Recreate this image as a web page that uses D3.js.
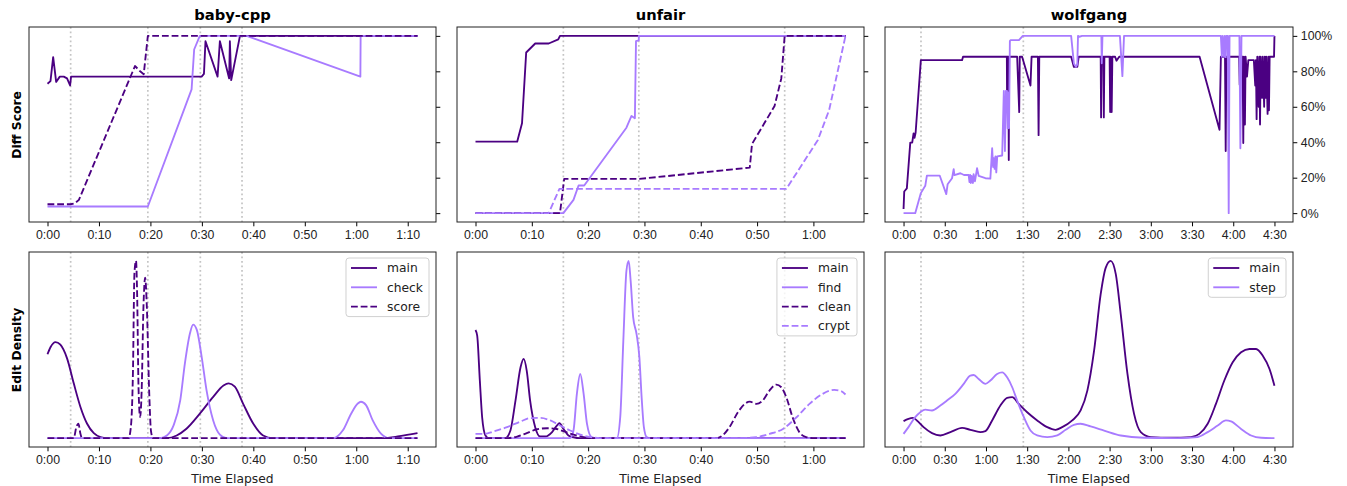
<!DOCTYPE html>
<html>
<head>
<meta charset="utf-8">
<script src="https://cdn.jsdelivr.net/npm/d3@7"></script>
<style>
  body { margin: 0; background: #fff; }
  svg { font-family: "DejaVu Sans", sans-serif; }
</style>
</head>
<body>
<div id="chart"></div>
<script>
// colours used by the notebook
var dark = "#4b0082";
var light = "#a87bff";

// ---- baby-cpp ---- [minutes, value]
var babyMarks = [4.5, 19.5, 29.7, 37.8];
var babyMainDiff = [[0,73],[0.58,74.5],[1.1,88],[1.68,74],[2.39,77],[3.16,77],[3.8,76],[4.39,72],[4.58,77],[29.95,77],[30.4,78.5],[30.7,97],[33.05,77],[33.5,97],[35.3,76],[35.44,97],[35.7,75],[37.4,100],[71.9,100]];
var babyCheckDiff = [[0,3.75],[19.5,3.75],[28.0,69.8],[28.5,92.3],[29.6,100],[38.7,100],[60.8,77],[60.85,100],[71.9,100]];
var babyScoreDiff = [[0,5],[4.5,5],[5.3,5.5],[6.1,7.5],[17.0,83],[18.0,80],[18.7,78.4],[19.5,100],[71.9,100]];
var babyMainDens = [[0,0.473],[0.58,0.513],[1.55,0.542],[2.5,0.527],[3.8,0.45],[5.1,0.309],[6.4,0.176],[7.7,0.081],[9.0,0.028],[10.3,0.006],[11.6,0],[23.2,0],[25.1,0.015],[27.0,0.053],[29.6,0.138],[32.2,0.233],[34.2,0.297],[35.2,0.309],[36.4,0.29],[38.0,0.195],[40.0,0.081],[41.9,0.015],[43.8,0],[65.1,0],[68.4,0.011],[71.9,0.028]];
var babyCheckDens = [[0,0],[21.9,0],[23.2,0.015],[24.5,0.072],[25.8,0.214],[26.7,0.422],[27.7,0.593],[28.3,0.64],[29.0,0.612],[29.95,0.46],[30.9,0.271],[32.2,0.1],[33.5,0.02],[34.8,0],[55.5,0],[57.4,0.044],[59.0,0.138],[60.3,0.195],[60.9,0.205],[61.9,0.186],[63.2,0.1],[64.8,0.025],[66.4,0],[71.9,0]];
var babyScoreDens = [[0,0],[5.1,0],[5.6,0.0625],[6.0,0.081],[6.4,0.025],[6.7,0],[15.75,0],[16.2,0.062],[16.6,0.366],[16.9,0.934],[17.2,1.0],[17.4,0.84],[17.7,0.271],[18.0,0.119],[18.3,0.271],[18.65,0.744],[18.98,0.905],[19.3,0.744],[19.75,0.271],[20.1,0.043],[20.5,0],[71.9,0]];

// ---- unfair ----
var unfairMarks = [15.6, 29.0, 54.9];
var unfairMainDiff = [[0,40.3],[7.4,40.3],[8.26,50.7],[9.0,90.6],[10.6,95.7],[13.0,95.7],[14.7,98],[15.0,100],[65.7,100]];
var unfairFindDiff = [[0,0],[15.6,0],[17.4,7.5],[18.3,15.6],[19.3,15.6],[26.8,48.2],[27.7,54.8],[28.3,53.5],[28.5,97],[29.0,97.5],[29.0,100],[65.7,100]];
var unfairCleanDiff = [[0,0],[15.0,0],[15.75,19.3],[29.1,19.3],[48.7,25.7],[49.1,39],[53.1,60.4],[54.3,76],[54.9,100],[65.7,100]];
var unfairCryptDiff = [[0,0],[13.0,0],[14.9,13.7],[55.2,13.7],[60.8,41.3],[62.8,58.2],[65.7,100]];
var unfairMainDens = [[0,0.61],[0.3,0.578],[0.77,0.325],[1.18,0.118],[1.77,0.015],[2.36,0],[5.3,0],[6.2,0.043],[7.1,0.212],[8.0,0.4],[8.55,0.447],[9.1,0.38],[9.7,0.212],[10.6,0.062],[11.5,0.009],[12.4,0.009],[13.6,0.034],[14.45,0.071],[14.9,0.084],[15.6,0.053],[16.5,0.015],[17.4,0.005],[18.6,0],[65.7,0]];
var unfairFindDens = [[0,0],[16.8,0],[17.4,0.043],[18.0,0.25],[18.6,0.362],[19.2,0.25],[19.8,0.08],[20.6,0.006],[21.5,0],[25.1,0],[25.7,0.118],[26.25,0.55],[26.8,0.944],[27.2,1.0],[27.55,0.887],[28.0,0.681],[28.6,0.587],[29.1,0.456],[29.5,0.23],[29.9,0.062],[30.4,0.006],[31.0,0],[65.7,0]];
var unfairCleanDens = [[0,0],[5.6,0],[7.4,0.009],[9.1,0.028],[10.9,0.05],[12.7,0.056],[14.2,0.053],[15.6,0.039],[17.4,0.02],[19.2,0.006],[20.9,0],[42.8,0],[44.0,0.019],[45.1,0.062],[46.6,0.146],[47.8,0.193],[48.7,0.206],[49.9,0.193],[51.0,0.212],[52.2,0.268],[53.4,0.302],[54.3,0.287],[55.2,0.23],[56.3,0.118],[57.5,0.034],[58.7,0.006],[59.9,0],[65.7,0]];
var unfairCryptDens = [[0,0.024],[1.5,0.024],[3.2,0.0375],[5.6,0.062],[8.0,0.094],[9.7,0.113],[11.5,0.114],[13.3,0.1],[15.0,0.071],[16.8,0.043],[18.6,0.02],[20.4,0.006],[22.1,0],[46.9,0],[49.9,0.006],[52.2,0.024],[54.6,0.052],[57.0,0.118],[59.3,0.193],[61.65,0.25],[63.7,0.272],[64.9,0.265],[65.7,0.246]];

// ---- wolfgang ----
var wolfMarks = [12.7, 87.2];
var wolfMainDiff = [[0,2.3],[0.5,12.2],[2.4,14],[4.9,39.8],[6.3,39.8],[7.3,45],[8.0,42.5],[8.8,45.5],[12.6,86.3],[42.6,86.3],[43.3,88.2],[75.2,88.2],[75.4,57],[75.6,88.2],[76.3,88.2],[76.6,30],[76.9,88.2],[82.7,88.2],[84.2,57],[84.6,88.2],[86.3,88.2],[92.4,72],[93.2,88.2],[97.8,88.2],[98.3,44],[98.8,88.2],[122,88.2],[124,82.5],[126.5,82.5],[127.5,88.2],[143.5,88.2],[143.8,54],[144.2,88.2],[145.5,88.2],[145.8,54],[146.2,88.2],[150,88.2],[150.4,57],[150.8,88.2],[151.5,57],[152,88.2],[154,88.2],[155,86],[157,88.2],[215.5,88.2],[230,47],[231,88.2],[234,88.2],[234.5,35],[235,88.2],[244.3,88.2],[244.7,72.5],[245,88.2],[246.8,88.2],[247.3,39.5],[247.8,88.2],[248.5,50],[249,88.2],[250,77],[251,86.3],[255,86.3],[256,72],[256.5,86.3],[257,53],[257.5,88.2],[258.5,60],[259,88.2],[259.5,50],[260,88.2],[261,65],[261.5,88.2],[262.5,60],[263,88.2],[263.5,65],[264,88.2],[265,56],[265.5,88.2],[266,58],[266.5,88.2],[269.7,88.2],[270,100]];
var wolfStepDiff = [[0,0],[8.5,0],[12.6,11.3],[15.8,15.4],[17,21.2],[26.3,21.2],[31.1,10.7],[32.1,16.3],[35.3,19.7],[36.5,24.8],[37,21.5],[41.4,22.5],[44,21.5],[47.4,21.5],[48,17.5],[48.5,21.5],[49,17],[49.5,21],[50.5,17],[51,22],[52,18],[53.5,25.3],[54.7,21],[59.6,19.7],[63.2,19.5],[64.5,36.6],[65.2,26],[65.7,31],[66.3,25],[66.9,32],[67.5,23],[68.2,32],[71.8,32.5],[73,69],[73.8,35],[74.5,69],[75.3,69],[75.8,47.8],[76.3,68],[76.8,48],[77.4,97],[78,97.6],[84,97.6],[86.8,100],[122,100],[124,84.4],[125.5,82.5],[126.5,84],[127,100],[128,99.5],[130,100],[144,100],[144.3,84.5],[144.8,100],[157.5,100],[159.3,77.3],[160.5,100],[231,100],[231.7,88.2],[232.3,100],[233.3,88.2],[233.8,100],[234.5,88],[235,100],[236,100],[236.7,0],[237.3,100],[244.5,100],[245.2,36.6],[246,100],[270,100]];
var wolfMainDens = [[0,0.096],[3.6,0.109],[6.8,0.114],[9.7,0.1],[14.6,0.062],[20.7,0.028],[26.8,0.015],[34.1,0.034],[42.6,0.058],[48.6,0.047],[55.9,0.034],[59.6,0.04],[64.5,0.1],[70.5,0.184],[75.4,0.227],[79.1,0.231],[83.9,0.193],[90,0.146],[97.3,0.1],[104.6,0.062],[110.7,0.047],[115.5,0.062],[122.8,0.1],[128.9,0.156],[133.8,0.268],[138.7,0.493],[143.5,0.812],[147.2,0.962],[150.8,1.0],[154.5,0.925],[158.1,0.7],[163,0.362],[167.8,0.137],[172.7,0.034],[180,0.006],[194.6,0.002],[209.2,0.006],[215.3,0.024],[221.4,0.081],[227.4,0.193],[233.5,0.325],[239.6,0.428],[245.7,0.484],[251.8,0.503],[256.6,0.503],[261.5,0.465],[266.4,0.39],[270,0.296]];
var wolfStepDens = [[0,0.024],[3.6,0.062],[8.5,0.118],[12.2,0.146],[15.8,0.161],[20.7,0.156],[26.8,0.184],[31.6,0.212],[37.7,0.25],[43.8,0.306],[48.6,0.353],[51.1,0.356],[54.7,0.334],[59.6,0.306],[63.2,0.325],[68.1,0.362],[71.8,0.371],[75.4,0.343],[79.1,0.287],[82.7,0.212],[87.6,0.118],[92.4,0.043],[97.3,0.015],[104.6,0.006],[111.9,0.015],[118,0.047],[124,0.075],[128.9,0.081],[136.2,0.066],[146,0.043],[158.1,0.015],[175,0.002],[199.5,0],[214,0.006],[221.4,0.034],[228.7,0.071],[234.7,0.1],[238.4,0.094],[245.7,0.052],[253,0.015],[260.3,0.002],[270,0]];

var yTickValues = [0, 20, 40, 60, 80, 100];

var panels = [
    { title: "baby-cpp", tMax: 71.9, step: 10, marks: babyMarks, series: [
        { name: "main", color: dark, dash: false, diff: babyMainDiff, dens: babyMainDens },
        { name: "check", color: light, dash: false, diff: babyCheckDiff, dens: babyCheckDens },
        { name: "score", color: dark, dash: true, diff: babyScoreDiff, dens: babyScoreDens }] },
    { title: "unfair", tMax: 65.7, step: 10, marks: unfairMarks, series: [
        { name: "main", color: dark, dash: false, diff: unfairMainDiff, dens: unfairMainDens },
        { name: "find", color: light, dash: false, diff: unfairFindDiff, dens: unfairFindDens },
        { name: "clean", color: dark, dash: true, diff: unfairCleanDiff, dens: unfairCleanDens },
        { name: "crypt", color: light, dash: true, diff: unfairCryptDiff, dens: unfairCryptDens }] },
    { title: "wolfgang", tMax: 270, step: 30, marks: wolfMarks, series: [
        { name: "main", color: dark, dash: false, diff: wolfMainDiff, dens: wolfMainDens },
        { name: "step", color: light, dash: false, diff: wolfStepDiff, dens: wolfStepDens }] }
];

var cols = [[29, 436], [457, 864], [885, 1293]];
var topRow = [27, 222];
var botRow = [252, 447];
var fs = 12.3;
var lw = 1.85;
var dashes = "6.8,2.9";

function fmtTime(m) {
    return Math.floor(m / 60) + ":" + String(Math.round(m % 60)).padStart(2, "0");
}

var svg = d3.select("#chart").append("svg")
    .attr("width", 1347).attr("height", 486);

panels.forEach(function (p, i) {
    var x = d3.scaleLinear()
        .domain([-0.05 * p.tMax, 1.05 * p.tMax])
        .range(cols[i]);
    var yDiff = d3.scaleLinear().domain([-5, 105]).range([topRow[1], topRow[0]]);
    var yDens = d3.scaleLinear().domain([-0.05, 1.05]).range([botRow[1], botRow[0]]);
    var ticks = d3.range(0, p.tMax + 0.01, p.step);

    [[topRow, yDiff, "diff", d3.curveLinear], [botRow, yDens, "dens", d3.curveMonotoneX]].forEach(function (r, ri) {
        var row = r[0], y = r[1], key = r[2];
        var g = svg.append("g");

        // clip to the axes box
        var cid = "clip" + i + "_" + ri;
        g.append("clipPath").attr("id", cid).append("rect")
            .attr("x", cols[i][0]).attr("y", row[0])
            .attr("width", cols[i][1] - cols[i][0]).attr("height", row[1] - row[0]);

        // dotted markers
        g.selectAll(".mark").data(p.marks).enter().append("line")
            .attr("x1", d => x(d)).attr("x2", d => x(d))
            .attr("y1", row[0]).attr("y2", row[1])
            .attr("stroke", "#c4c4c4").attr("stroke-width", 1.7)
            .attr("stroke-dasharray", "1.7,2.8");

        var line = d3.line()
            .x(d => x(d[0]))
            .y(d => y(d[1]))
            .curve(r[3]);

        g.append("g").attr("clip-path", "url(#" + cid + ")")
            .selectAll("path").data(p.series).enter().append("path")
            .attr("d", d => line(d[key]))
            .attr("fill", "none")
            .attr("stroke", d => d.color)
            .attr("stroke-width", lw)
            .attr("stroke-linejoin", "round")
            .attr("stroke-dasharray", d => d.dash ? dashes : null);

        // x axis
        var xa = g.append("g")
            .attr("transform", "translate(0," + row[1] + ")")
            .call(d3.axisBottom(x).tickValues(ticks).tickFormat(fmtTime).tickSize(4.3).tickPadding(3.5));
        xa.select(".domain").remove();
        xa.selectAll("text").attr("font-size", fs).attr("fill", "#222");

        if (ri == 0) {
            var ya = g.append("g")
                .attr("transform", "translate(" + cols[i][1] + ",0)")
                .call(d3.axisRight(y).tickValues(yTickValues)
                    .tickFormat(i == 2 ? (d => d + "%") : "").tickSize(4.3).tickPadding(3.5));
            ya.select(".domain").remove();
            ya.selectAll("text").attr("font-size", fs).attr("fill", "#222");
        }

        g.append("rect")
            .attr("x", cols[i][0]).attr("y", row[0])
            .attr("width", cols[i][1] - cols[i][0]).attr("height", row[1] - row[0])
            .attr("fill", "none").attr("stroke", "#222").attr("stroke-width", 1);
    });

    var cx = (cols[i][0] + cols[i][1]) / 2;
    svg.append("text").attr("x", cx).attr("y", 20)
        .attr("text-anchor", "middle").attr("font-size", 14.7).attr("font-weight", "bold")
        .text(p.title);
    svg.append("text").attr("x", cx).attr("y", 483)
        .attr("text-anchor", "middle").attr("font-size", fs).attr("fill", "#222")
        .text("Time Elapsed");

    // legend
    var lg = svg.append("g");
    var box = lg.append("rect")
        .attr("fill", "white").attr("fill-opacity", 0.8)
        .attr("stroke", "#d0d0d0").attr("rx", 3);
    var items = lg.selectAll(".item").data(p.series).enter().append("g")
        .attr("transform", (d, k) => "translate(0," + (10 + k * 19.3) + ")");
    items.append("line")
        .attr("x1", 5).attr("x2", 31)
        .attr("stroke", d => d.color).attr("stroke-width", lw)
        .attr("stroke-dasharray", d => d.dash ? dashes : null);
    items.append("text").attr("x", 41).attr("dy", "0.35em")
        .attr("font-size", fs).attr("fill", "#222")
        .text(d => d.name);
    var wMax = 0;
    items.selectAll("text").each(function () { wMax = Math.max(wMax, this.getComputedTextLength()); });
    var bw = 41 + wMax + 6;
    var bh = 10 + (p.series.length - 1) * 19.3 + 10;
    box.attr("x", 0).attr("y", 0).attr("width", bw).attr("height", bh);
    lg.attr("transform", "translate(" + (cols[i][1] - 7 - bw) + "," + (botRow[0] + 6) + ")");
});

svg.append("text").attr("transform", "translate(21,125) rotate(-90)")
    .attr("text-anchor", "middle").attr("font-size", fs).attr("font-weight", "bold")
    .text("Diff Score");
svg.append("text").attr("transform", "translate(21,350) rotate(-90)")
    .attr("text-anchor", "middle").attr("font-size", fs).attr("font-weight", "bold")
    .text("Edit Density");
</script>
</body>
</html>
